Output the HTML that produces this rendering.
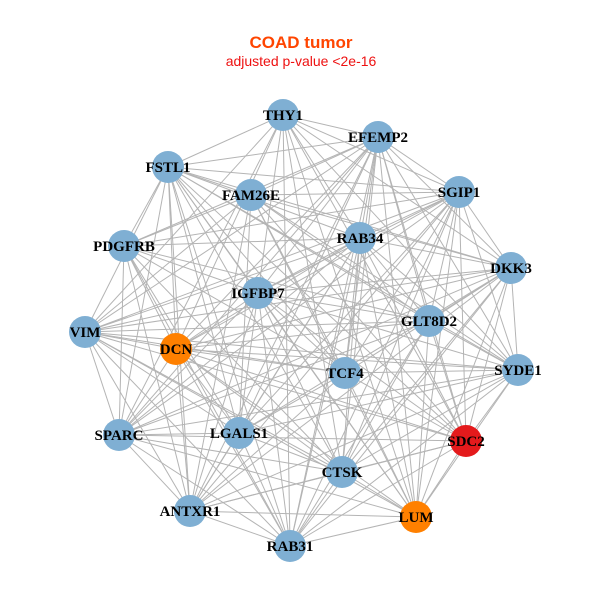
<!DOCTYPE html>
<html><head><meta charset="utf-8"><style>
html,body{margin:0;padding:0;background:#fff;width:600px;height:600px;overflow:hidden}
</style></head><body>
<svg id="s" width="600" height="600" xmlns="http://www.w3.org/2000/svg">
<rect width="600" height="600" fill="#fff"/>
<text x="301" y="48" text-anchor="middle" font-family="Liberation Sans, sans-serif" font-weight="bold" font-size="17" fill="#ff4500">COAD tumor</text>
<text x="301" y="66" text-anchor="middle" font-family="Liberation Sans, sans-serif" font-size="14" fill="#ee1111">adjusted p-value &lt;2e-16</text>
<g id="e" stroke="#b4b4b4" stroke-width="1"></g>
<g id="n"></g>
</svg>
<script>
var N=[["THY1",283,115,"#7fafd3"],["EFEMP2",378,137,"#7fafd3"],["FSTL1",168,167,"#7fafd3"],["FAM26E",251,195,"#7fafd3"],["SGIP1",459,192,"#7fafd3"],["RAB34",360,238,"#7fafd3"],["PDGFRB",124,246,"#7fafd3"],["DKK3",511,268,"#7fafd3"],["IGFBP7",258,293,"#7fafd3"],["GLT8D2",429,321,"#7fafd3"],["VIM",85,332,"#7fafd3"],["DCN",176,349,"#ff8000"],["TCF4",345,373,"#7fafd3"],["SYDE1",518,370,"#7fafd3"],["SPARC",119,435,"#7fafd3"],["LGALS1",239,433,"#7fafd3"],["SDC2",466,441,"#e41a1c"],["CTSK",342,472,"#7fafd3"],["ANTXR1",190,511,"#7fafd3"],["LUM",416,517,"#ff8000"],["RAB31",290,546,"#7fafd3"]];
var ns="http://www.w3.org/2000/svg",E=document.getElementById("e"),G=document.getElementById("n");
for(var i=0;i<N.length;i++)for(var j=i+1;j<N.length;j++){if((i*7+j*3)%9==0)continue;var l=document.createElementNS(ns,"line");l.setAttribute("x1",N[i][1]);l.setAttribute("y1",N[i][2]);l.setAttribute("x2",N[j][1]);l.setAttribute("y2",N[j][2]);E.appendChild(l);}
N.forEach(function(d){var c=document.createElementNS(ns,"circle");c.setAttribute("cx",d[1]);c.setAttribute("cy",d[2]);c.setAttribute("r",16);c.setAttribute("fill",d[3]);G.appendChild(c);});
N.forEach(function(d){var t=document.createElementNS(ns,"text");t.setAttribute("x",d[1]);t.setAttribute("y",d[2]+5);t.setAttribute("text-anchor","middle");t.setAttribute("font-family","Liberation Serif, serif");t.setAttribute("font-weight","bold");t.setAttribute("font-size","15");t.textContent=d[0];G.appendChild(t);});
</script>
</body></html>
